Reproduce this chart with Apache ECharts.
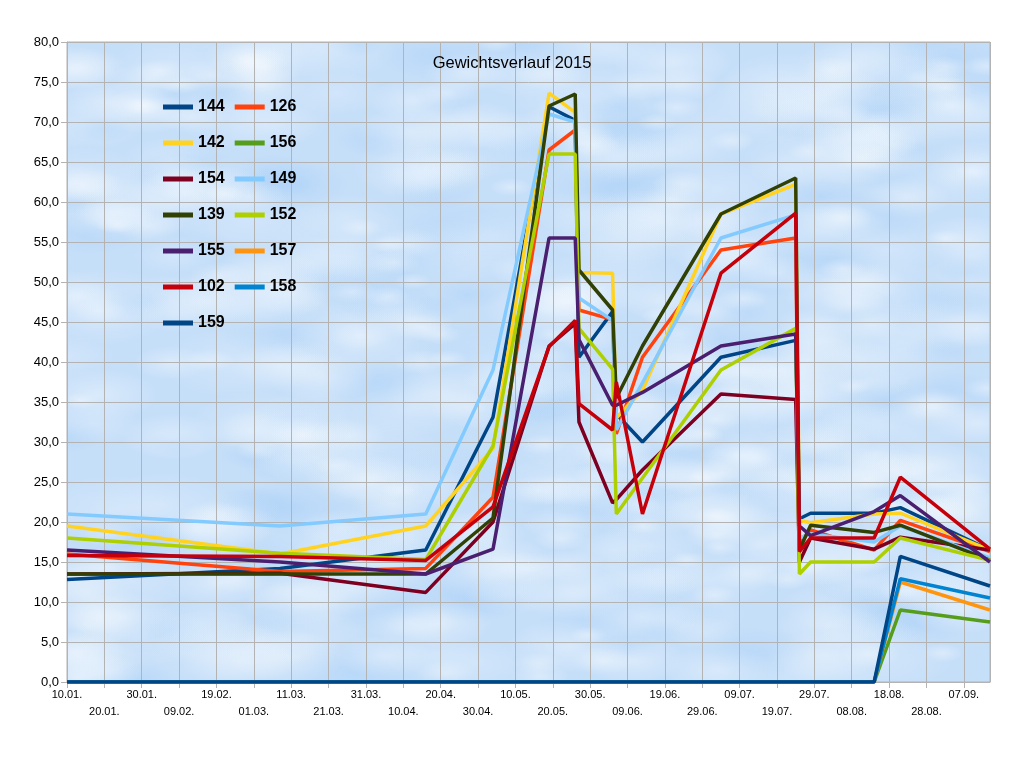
<!DOCTYPE html>
<html lang="de">
<head>
<meta charset="UTF-8">
<title>Gewichtsverlauf 2015</title>
<script src="https://cdn.jsdelivr.net/npm/echarts@6/dist/echarts.min.js"></script>
<style>
    body { margin: 0; background: #fff; }
    #wrap { position: relative; width: 1024px; height: 768px; }
    #clouds { position: absolute; left: 67px; top: 42px; width: 923px; height: 640px; background: #cbe2fa; }
    #demo { position: absolute; left: 0; top: 0; width: 1024px; height: 768px; }
</style>
</head>
<body>
<div id="wrap">
    <canvas id="clouds" width="923" height="640"></canvas>
    <div id="demo"></div>
</div>
<script>
    // Messtage
    var dates = ['10.01.', '08.03.', '16.04.', '04.05.', '19.05.', '26.05.', '27.05.', '05.06.', '06.06.',
        '13.06.', '04.07.', '24.07.', '25.07.', '28.07.', '14.08.', '21.08.', '14.09.'];

    var names = ['144', '126', '142', '156', '154', '149', '139', '152', '155', '157', '102', '158', '159'];
    var colors = ['#004586', '#ff420e', '#ffd320', '#579d1c', '#7e0021', '#83caff', '#314004',
        '#aecf00', '#4b1f6f', '#ff950e', '#c5000b', '#0084d1', '#004586'];

    var w144 = [12.8, 14.2, 16.5, 33.1, 71.9, 70.2, 40.6, 46.3, 33.5, 30.0, 40.6, 42.7, 20.4, 21.1, 21.1, 21.8, 16.5];
    var w126 = [16.0, 13.8, 14.2, 23.1, 66.5, 69.0, 46.5, 45.3, 31.0, 40.6, 54.0, 55.5, 17.5, 19.0, 16.5, 20.2, 16.3];
    var w142 = [19.5, 16.0, 19.5, 29.2, 73.6, 71.2, 51.2, 51.1, 33.0, 36.5, 58.5, 62.2, 20.2, 19.9, 21.0, 21.1, 16.5];
    var w156 = [0, 0, 0, 0, 0, 0, 0, 0, 0, 0, 0, 0, 0, 0, 0, 9.0, 7.5];
    var w154 = [13.5, 13.6, 11.2, 20.0, 42.0, 44.8, 32.5, 22.4, 22.8, 26.5, 36.0, 35.3, 15.0, 18.0, 16.6, 18.1, 16.5];
    var w149 = [21.0, 19.5, 21.0, 39.0, 71.0, 70.0, 48.0, 45.2, 31.5, 37.4, 55.5, 58.4, 18.0, 18.5, 17.5, 19.5, 15.5];
    var w139 = [13.5, 13.5, 13.5, 20.5, 72.0, 73.5, 51.5, 46.5, 35.5, 42.0, 58.5, 63.0, 16.5, 19.6, 18.7, 19.6, 15.2];
    var w152 = [18.0, 16.1, 15.3, 29.5, 66.0, 66.0, 44.2, 39.1, 21.0, 25.5, 39.0, 44.2, 13.5, 15.0, 15.0, 18.0, 15.2];
    var w155 = [16.5, 15.0, 13.5, 16.6, 55.5, 55.5, 42.8, 34.6, 34.6, 36.2, 42.0, 43.5, 19.5, 18.3, 21.3, 23.3, 15.0];
    var w157 = [0, 0, 0, 0, 0, 0, 0, 0, 0, 0, 0, 0, 0, 0, 0, 12.5, 9.0];
    var w102 = [15.8, 15.7, 15.2, 21.9, 41.9, 45.2, 34.8, 31.5, 37.5, 21.0, 51.1, 58.6, 16.3, 18.0, 18.0, 25.6, 16.6];
    var w158 = [0, 0, 0, 0, 0, 0, 0, 0, 0, 0, 0, 0, 0, 0, 0, 12.9, 10.5];
    var w159 = [0, 0, 0, 0, 0, 0, 0, 0, 0, 0, 0, 0, 0, 0, 0, 15.7, 12.0];

    var values = [w144, w126, w142, w156, w154, w149, w139, w152, w155, w157, w102, w158, w159];

    // Wolken-Hintergrund (nur Textur, fester Seed)
    (function () {
        var c = document.getElementById('clouds').getContext('2d');
        var seed = 7;
        function rnd() { seed = (seed * 16807) % 2147483647; return seed / 2147483647; }
        c.fillStyle = '#c6dff9';
        c.fillRect(0, 0, 923, 640);
        function blob(col, alpha, n, rmin, rmax) {
            for (var i = 0; i < n; i++) {
                var x = rnd() * 923, y = rnd() * 640, r = rmin + rnd() * (rmax - rmin);
                c.save();
                c.translate(x, y);
                c.scale(1.8, 0.8);
                var g = c.createRadialGradient(0, 0, 0, 0, 0, r);
                g.addColorStop(0, 'rgba(' + col + ',' + alpha + ')');
                g.addColorStop(1, 'rgba(' + col + ',0)');
                c.fillStyle = g;
                c.beginPath();
                c.arc(0, 0, r, 0, Math.PI * 2);
                c.fill();
                c.restore();
            }
        }
        blob('170,208,248', 0.45, 120, 15, 40);
        blob('255,255,255', 0.35, 260, 10, 35);
        blob('235,244,255', 0.3, 160, 20, 45);
    })();

    var start = new Date(2015, 0, 10);
    function dayOf(s) {
        var p = s.split('.');
        var d = new Date(2015, parseInt(p[1], 10) - 1, parseInt(p[0], 10));
        return Math.round((d - start) / 86400000);
    }
    function pad(n) { return (n < 10 ? '0' : '') + n; }
    function dateLabel(v) {
        if (v % 10 !== 0) return '';
        var d = new Date(2015, 0, 10 + v);
        var txt = pad(d.getDate()) + '.' + pad(d.getMonth() + 1) + '.';
        return (v / 10) % 2 === 1 ? '\n' + txt : txt;
    }

    var days = dates.map(dayOf);
    var series = [];
    for (var i = 0; i < names.length; i++) {
        series.push({
            name: names[i],
            type: 'line',
            symbol: 'none',
            color: colors[i],
            lineStyle: { width: 3.5, color: colors[i] },
            data: values[i].map(function (v, k) { return [days[k], v]; })
        });
    }

    var font = '"Liberation Sans", Arial, sans-serif';
    var myChart = echarts.init(document.getElementById('demo'));
    var option = {
        animation: false,
        textStyle: { fontFamily: font },
        title: {
            text: 'Gewichtsverlauf 2015',
            left: 'center',
            top: 50,
            textStyle: { fontSize: 16.5, fontWeight: 'normal', color: '#000', fontFamily: font }
        },
        legend: {
            data: names,
            left: 158,
            top: 89,
            width: 170,
            itemWidth: 30,
            itemHeight: 5,
            itemGap: 10,
            icon: 'rect',
            textStyle: { fontSize: 16, fontWeight: 'bold', color: '#000', fontFamily: font, lineHeight: 26 }
        },
        grid: {
            left: 67, right: 34, top: 42, bottom: 86,
            show: true, borderColor: '#b3b3b3', borderWidth: 1
        },
        xAxis: {
            type: 'value',
            min: 0,
            max: 247,
            interval: 10,
            axisLine: { lineStyle: { color: '#b3b3b3' } },
            axisTick: { show: true, length: 6, lineStyle: { color: '#b3b3b3' } },
            splitLine: { show: true, lineStyle: { color: '#b3b3b3', width: 1 } },
            axisLabel: {
                formatter: dateLabel,
                fontSize: 11,
                lineHeight: 17,
                margin: 4,
                color: '#000',
                showMaxLabel: false
            }
        },
        yAxis: {
            type: 'value',
            min: 0,
            max: 80,
            interval: 5,
            axisLine: { show: true, lineStyle: { color: '#b3b3b3' } },
            axisTick: { show: true, length: 6, lineStyle: { color: '#b3b3b3' } },
            splitLine: { show: true, lineStyle: { color: '#b3b3b3', width: 1 } },
            axisLabel: {
                formatter: function (v) { return v.toFixed(1).replace('.', ','); },
                fontSize: 13,
                margin: 8,
                color: '#000'
            }
        },
        series: series
    };
    myChart.setOption(option);
</script>
</body>
</html>
